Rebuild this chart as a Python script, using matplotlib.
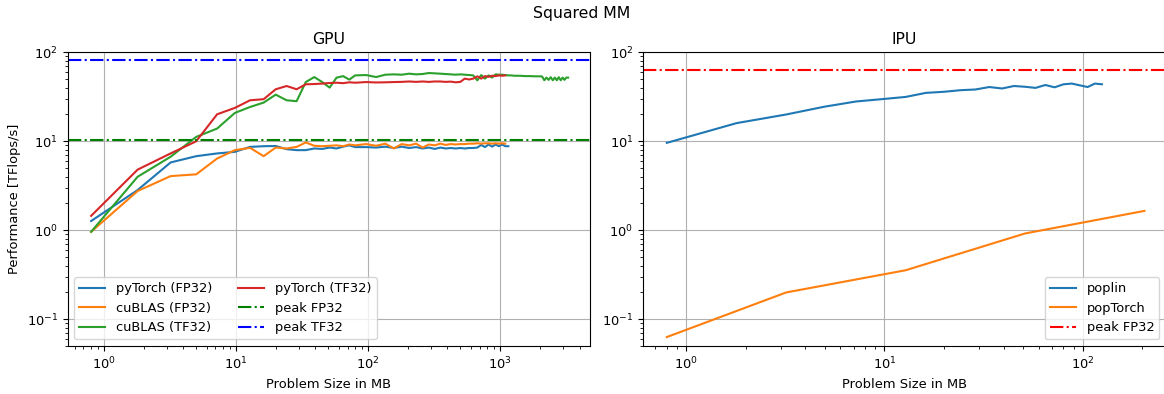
import matplotlib
matplotlib.use("Agg")
import matplotlib.pyplot as plt

plt.rcParams["font.size"] = 9.4

# ---------------- data (MB, TFlops/s) ----------------
gpu_sizes = [0.8, 1.8, 3.2, 5.0, 7.2, 9.8, 12.8, 16.2, 20.0, 24.2, 28.8, 33.8, 39.2, 45.0,
             51.2, 57.8, 64.8, 72.2, 80.0, 96.8, 115.2, 135.2, 156.8, 180.0, 204.8, 231.2,
             259.2, 288.8, 320.0, 352.8, 387.2, 423.2, 460.8, 500.0, 540.8, 583.2, 627.2,
             672.8, 720.0, 768.8, 819.2, 871.2, 924.8, 980.0, 1036.8, 1095.2]
gpu_sizes_blue = gpu_sizes + [1155.2]
gpu_sizes_green = gpu_sizes + [1155.2, 1216.8, 1280.0, 1411.2, 1548.8, 1692.8, 1843.2, 2000.0,
                               2080.8, 2163.2, 2247.2, 2332.8, 2420.0, 2508.8, 2599.2, 2691.2,
                               2784.8, 2880.0, 2976.8, 3075.2, 3175.2, 3276.8]

pytorch_fp32 = [1.27, 2.83, 5.78, 6.8, 7.3, 7.6, 8.65, 8.8, 8.85, 8.15, 7.95, 7.95, 8.3, 8.2,
                8.5, 8.3, 8.7, 9.0, 8.6, 8.6, 8.5, 8.7, 8.4, 8.7, 8.4, 8.6, 8.3, 8.5, 8.2,
                8.5, 8.3, 8.4, 8.3, 8.4, 8.3, 8.4, 8.4, 8.5, 9.1, 8.6, 9.2, 8.7, 9.2, 8.8,
                9.2, 8.8, 8.8]
cublas_fp32 = [0.96, 2.76, 4.06, 4.25, 6.4, 7.95, 8.43, 6.8, 8.5, 8.3, 8.65, 9.7, 8.9, 8.8,
               8.9, 9.0, 8.8, 9.2, 9.0, 9.3, 8.9, 9.4, 8.3, 9.3, 9.0, 9.4, 8.5, 9.2, 9.0,
               9.4, 9.1, 9.3, 9.2, 9.3, 9.3, 9.4, 9.4, 9.5, 9.4, 9.5, 9.5, 9.4, 9.5, 9.4,
               9.5, 9.4]
cublas_tf32 = [0.96, 3.99, 6.7, 11.2, 13.9, 20.8, 24.3, 27.2, 33.4, 28.9, 28.2, 46.3, 52.7, 46.3,
               40.1, 51.9, 54.0, 49.3, 55.0, 55.5, 52.7, 56.0, 56.5, 56.0, 57.5, 56.5, 57.0,
               58.5, 58.0, 57.5, 57.0, 56.5, 56.0, 56.5, 56.0, 55.5, 55.0, 48.4, 55.5, 50.6,
               55.0, 52.0, 56.5, 56.0, 56.0, 55.5, 55.0, 55.0, 54.5, 54.5, 54.0, 54.0, 53.7,
               53.7, 53.5, 48.5, 52.0, 49.0, 52.5, 48.5, 52.0, 48.5, 52.5, 48.5, 52.0, 49.0,
               52.0, 51.9]
pytorch_tf32 = [1.45, 4.8, 7.3, 10.0, 20.1, 23.7, 28.9, 29.7, 38.4, 41.8, 38.4, 43.7, 44.0, 44.5,
                45.2, 45.5, 45.0, 46.0, 45.5, 46.3, 45.8, 46.0, 46.3, 46.5, 47.0, 46.5, 47.0,
                46.5, 47.0, 47.0, 46.5, 46.8, 46.0, 46.5, 50.6, 49.5, 50.6, 53.7, 50.6, 54.0,
                53.0, 54.5, 54.0, 55.0, 54.5, 55.0]
peak_gpu_fp32 = 10.3
peak_gpu_tf32 = 81.0

ipu_sizes_poplin = [0.8, 1.8, 3.2, 5.0, 7.2, 9.8, 12.8, 16.2, 20.0, 24.2, 28.8, 33.8, 39.2,
                    45.0, 51.2, 57.8, 64.8, 72.2, 80.0, 88.2, 96.8, 105.8, 115.2, 125.0]
poplin = [9.6, 16.0, 20.0, 24.5, 28.0, 29.8, 31.5, 35.0, 36.0, 37.5, 38.2, 40.7, 39.2,
          41.8, 41.0, 39.8, 42.9, 40.4, 43.7, 44.5, 42.5, 40.7, 44.5, 43.7]
ipu_sizes_poptorch = [0.8, 3.2, 12.8, 51.2, 204.8]
poptorch = [0.063, 0.20, 0.355, 0.92, 1.65]
peak_ipu_fp32 = 62.5

# ---------------- figure ----------------
W, H = 1164, 394
fig = plt.figure(figsize=(W / 100, H / 100), dpi=100)

def ax_at(l, r, t, b):
    return fig.add_axes([l / W, 1 - b / H, (r - l) / W, (b - t) / H])

ax1 = ax_at(67.5, 590, 52.3, 346)
ax2 = ax_at(643, 1166, 52.3, 346)

ax1.plot(gpu_sizes_blue, pytorch_fp32, color="tab:blue", label="pyTorch (FP32)")
ax1.plot(gpu_sizes, cublas_fp32, color="tab:orange", label="cuBLAS (FP32)")
ax1.plot(gpu_sizes_green, cublas_tf32, color="tab:green", label="cuBLAS (TF32)")
ax1.plot(gpu_sizes, pytorch_tf32, color="tab:red", label="pyTorch (TF32)")
ax1.axhline(peak_gpu_fp32, color="green", ls="-.", label="peak FP32")
ax1.axhline(peak_gpu_tf32, color="blue", ls="-.", label="peak TF32")

ax2.plot(ipu_sizes_poplin, poplin, color="tab:blue", label="poplin")
ax2.plot(ipu_sizes_poptorch, poptorch, color="tab:orange", label="popTorch")
ax2.axhline(peak_ipu_fp32, color="red", ls="-.", label="peak FP32")

for ax, title in ((ax1, "GPU"), (ax2, "IPU")):
    ax.set_xscale("log")
    ax.set_yscale("log")
    ax.set_ylim(0.05, 100)
    ax.grid(True, which="major")
    ax.set_title(title, fontsize=11.3)
    ax.set_xlabel("Problem Size in MB")

ax1.set_xlim(0.53, 4800)
ax2.set_xlim(0.607, 263)
ax1.set_ylabel("Performance [TFlops/s]")
ax1.legend(loc="lower left", ncol=2)
ax2.legend(loc="lower right")
fig.suptitle("Squared MM", y=0.985, fontsize=11.3)

fig.savefig("out.png", dpi=100)
